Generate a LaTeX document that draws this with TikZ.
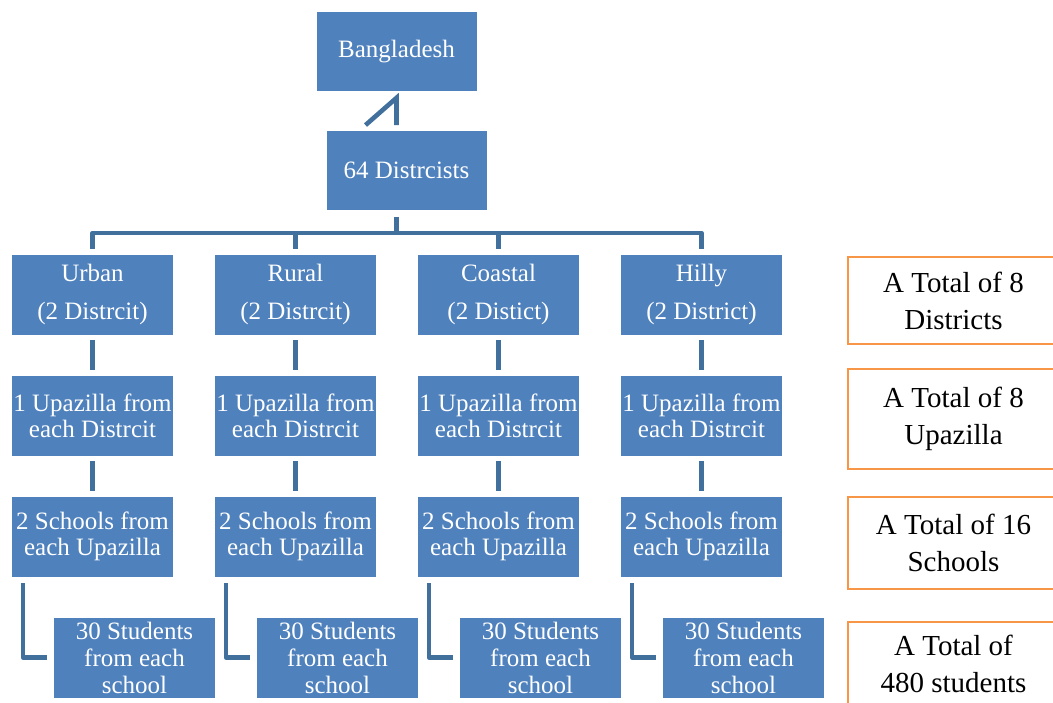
\documentclass[tikz,border=0pt]{standalone}
\usepackage{fontspec}
\setmainfont{Liberation Serif}
\usepackage{tikz}
\definecolor{boxblue}{HTML}{4F81BD}
\definecolor{linkblue}{HTML}{41709C}
\definecolor{totalorange}{HTML}{F79646}
\begin{document}
\begin{tikzpicture}[x=1pt,y=-1pt,
  level/.style={rectangle,fill=boxblue,draw=white,line width=0.8pt,text=white,
    minimum width=162pt,minimum height=81pt,inner sep=0pt,align=center,
    font=\fontsize{25}{26}\selectfont},
  students/.style={level,font=\fontsize{25}{27}\selectfont},
  total/.style={rectangle,fill=white,draw=totalorange,line width=2.5pt,text=black,
    minimum width=211pt,inner sep=0pt,align=center,
    font=\fontsize{29}{37}\selectfont},
  link/.style={draw=linkblue,line width=4.6pt,line join=round}]
\useasboundingbox (0,0) rectangle (1053,703);
% top of the tree
\node[level,minimum width=161pt,minimum height=80pt] (bd) at (396.5,51.5) {Bangladesh};
\node[level,minimum width=161pt,minimum height=80pt] (dist) at (406.5,170.5) {64 Distrcists};
% four regions
\node[level] (urban) at (92.5,294.5) {Urban\\[12pt](2 Distrcit)};
\node[level] (rural) at (295.5,294.5) {Rural\\[12pt](2 Distrcit)};
\node[level] (coastal) at (498.5,294.5) {Coastal\\[12pt](2 Distict)};
\node[level] (hilly) at (701.5,294.5) {Hilly\\[12pt](2 District)};
% upazilla level
\node[level] (upa1) at (92.5,415.5) {1 Upazilla from\\each Distrcit};
\node[level] (upa2) at (295.5,415.5) {1 Upazilla from\\each Distrcit};
\node[level] (upa3) at (498.5,415.5) {1 Upazilla from\\each Distrcit};
\node[level] (upa4) at (701.5,415.5) {1 Upazilla from\\each Distrcit};
% school level
\node[level] (sch1) at (92.5,536.5) {2 Schools from\\each Upazilla};
\node[level] (sch2) at (295.5,536.5) {2 Schools from\\each Upazilla};
\node[level] (sch3) at (498.5,536.5) {2 Schools from\\each Upazilla};
\node[level] (sch4) at (701.5,536.5) {2 Schools from\\each Upazilla};
% student level
\node[students] (stu1) at (134.5,657.5) {30 Students\\from each\\school};
\node[students] (stu2) at (337.5,657.5) {30 Students\\from each\\school};
\node[students] (stu3) at (540.5,657.5) {30 Students\\from each\\school};
\node[students] (stu4) at (743.5,657.5) {30 Students\\from each\\school};
% totals
\node[total,minimum height=87pt] (tot1) at (953.5,300.5) {A Total of 8\\Districts};
\node[total,minimum height=100pt] (tot2) at (953.5,419) {A Total of 8\\Upazilla};
\node[total,minimum height=92pt] (tot3) at (953.5,543) {A Total of 16\\Schools};
\node[total,minimum height=84pt] (tot4) at (953.5,664) {A Total of\\480 students};
% connectors
\coordinate (kink) at ([yshift=-6pt]bd.south);
\coordinate (bar) at (396.5,233);
\draw[link,line join=miter] ([xshift=-31pt,yshift=5pt]dist.north -| kink) -- (kink) -- ([yshift=5pt]dist.north -| kink);
\draw[link] ([yshift=-6pt]dist.south -| kink) -- (bar);
\draw[link] ([yshift=5pt]urban.north) -- (urban.north |- bar) -- (hilly.north |- bar) -- ([yshift=5pt]hilly.north);
\draw[link] (rural.north |- bar) -- ([yshift=5pt]rural.north);
\draw[link] (coastal.north |- bar) -- ([yshift=5pt]coastal.north);
\draw[link] ([yshift=-5pt]urban.south) -- ([yshift=5pt]upa1.north);
\draw[link] ([yshift=-5pt]rural.south) -- ([yshift=5pt]upa2.north);
\draw[link] ([yshift=-5pt]coastal.south) -- ([yshift=5pt]upa3.north);
\draw[link] ([yshift=-5pt]hilly.south) -- ([yshift=5pt]upa4.north);
\draw[link] ([yshift=-5pt]upa1.south) -- ([yshift=5pt]sch1.north);
\draw[link] ([yshift=-5pt]upa2.south) -- ([yshift=5pt]sch2.north);
\draw[link] ([yshift=-5pt]upa3.south) -- ([yshift=5pt]sch3.north);
\draw[link] ([yshift=-5pt]upa4.south) -- ([yshift=5pt]sch4.north);
\draw[link] ([xshift=12pt,yshift=-6pt]sch1.south west) |- ([xshift=-6pt]stu1.west);
\draw[link] ([xshift=12pt,yshift=-6pt]sch2.south west) |- ([xshift=-6pt]stu2.west);
\draw[link] ([xshift=12pt,yshift=-6pt]sch3.south west) |- ([xshift=-6pt]stu3.west);
\draw[link] ([xshift=12pt,yshift=-6pt]sch4.south west) |- ([xshift=-6pt]stu4.west);
\end{tikzpicture}
\end{document}
